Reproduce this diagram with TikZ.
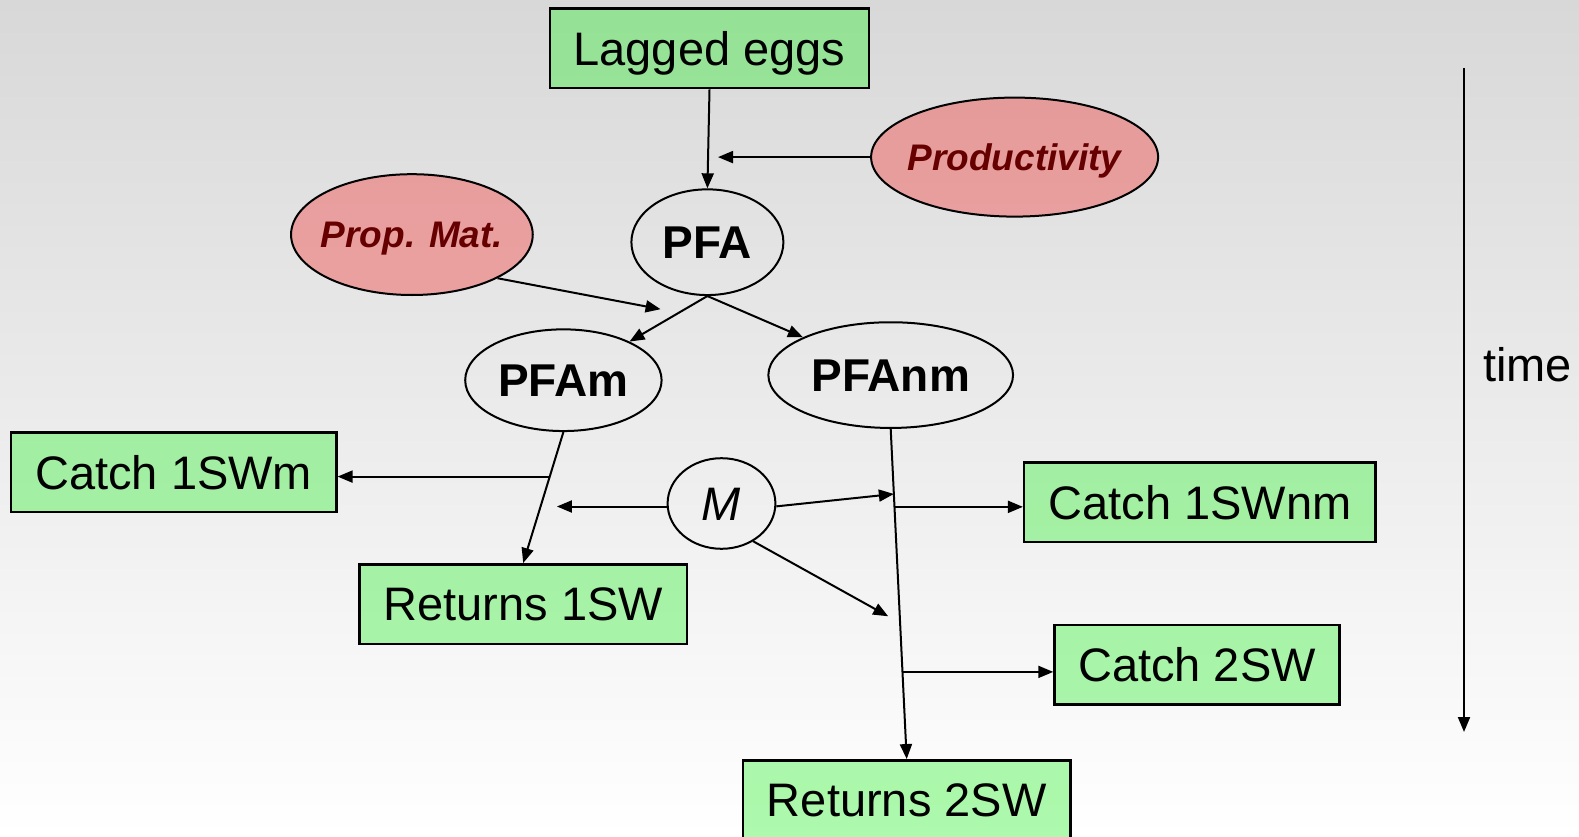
\documentclass[tikz,border=0pt]{standalone}
\usepackage{fontspec}
\setmainfont{Liberation Sans}
\usetikzlibrary{arrows.meta,shapes.geometric,calc}

\definecolor{boxgreen}{RGB}{40,240,40}
\definecolor{notepink}{RGB}{247,50,50}
\definecolor{labelred}{RGB}{102,0,0}
\definecolor{bgtop}{RGB}{216,216,216}

\begin{document}
\begin{tikzpicture}[x=1pt,y=-1pt,
  box/.style={draw, line width=2.5pt, fill=boxgreen, fill opacity=0.38,
    draw opacity=1, text opacity=1, inner sep=0pt, minimum height=79.6pt,
    text height=33.7pt, text depth=0pt, font=\fontsize{47}{56}\selectfont},
  % negative inner sep lets the given minimum size fix each ellipse
  oval/.style={ellipse, draw, line width=2pt, inner xsep=-80pt, inner ysep=-30pt,
    text height=33pt, text depth=0pt, font=\fontsize{46}{55}\selectfont\bfseries},
  noteoval/.style={ellipse, draw, line width=2pt, inner xsep=-80pt, inner ysep=-30pt,
    fill=notepink, fill opacity=0.38, draw opacity=1, text opacity=1,
    text=labelred, text height=26.5pt, text depth=0pt,
    font=\fontsize{37}{44}\selectfont\bfseries\itshape},
  arr/.style={-{Triangle[length=15pt,width=12pt]}, line width=2pt},
]
\useasboundingbox (0,0) rectangle (1579,837);
\shade[top color=bgtop, bottom color=white] (0,0) rectangle (1579,837);

% boxes
\node[box, minimum width=319pt]   (lagged)  at (709.5,48.3)  {Lagged eggs};
\node[box, minimum width=325.3pt] (catchm)  at (173.7,472.2) {Catch 1SWm};
\node[box, minimum width=351.5pt] (catchnm) at (1199.9,502.4) {Catch 1SWnm};
\node[box, minimum width=327.3pt] (ret1)    at (523.2,604.1) {Returns 1SW};
\node[box, minimum width=285pt]   (catch2)  at (1197,664.8)  {Catch 2SW};
\node[box, minimum width=327.3pt] (ret2)    at (906.7,800.1) {Returns 2SW};

% ellipses
\node[noteoval, minimum width=287pt, minimum height=119pt]     (prod) at (1014.6,157.1) {Productivity};
\node[noteoval, minimum width=241.7pt, minimum height=120.8pt] (prop) at (411.9,234.6) {Prop. Mat.};
\node[oval, minimum width=152pt, minimum height=105.7pt]   (pfa)   at (707.4,242.2) {PFA};
\node[oval, minimum width=196.4pt, minimum height=101.7pt] (pfam)  at (563.4,380.2) {PFAm};
\node[oval, minimum width=244.7pt, minimum height=105.7pt] (pfanm) at (890.7,375.1) {PFAnm};
\node[oval, minimum width=107.8pt, minimum height=90.6pt,
      font=\fontsize{47}{56}\selectfont\itshape, text height=33.7pt] (m) at (721.5,503.5) {M};

% free arrow ends
\coordinate (prodtip) at (718,157.1);
\coordinate (proptip) at (660.6,309.2);
\coordinate (mwtip)   at (556.9,506.5);
\coordinate (mstip)   at (888.2,616.3);

% junctions on the vertical flows
\coordinate (jm)  at ($(pfam.south)!0.34!(ret1.north)$);
\coordinate (jme) at ($(pfanm.south)!0.197!(ret2.north)$);
\coordinate (jnm) at ($(pfanm.south)!0.236!(ret2.north)$);
\coordinate (j2)  at ($(pfanm.south)!0.736!(ret2.north)$);

% connectors
\draw[arr] (lagged.south) -- (pfa.north);
\draw[arr] (prod.west) -- (prodtip);
\draw[arr] (prop.-27) -- (proptip);
\draw[arr] (pfa.south) -- (pfam);
\draw[arr] (pfa.south) -- (pfanm);
\draw[arr] (pfam.south) -- (ret1.north);
\draw[arr] (pfanm.south) -- (ret2.north);
\draw[arr] (jm) -- (jm -| catchm.east);
\draw[arr] (jnm) -- (jnm -| catchnm.west);
\draw[arr] (j2) -- (j2 -| catch2.west);
\draw[arr] (m.west |- mwtip) -- (mwtip);
\draw[arr] (m.-3) -- (jme);
\draw[arr] (m.-50) -- (mstip);

% time axis
\coordinate (t0) at (1464,68.5);
\coordinate (t1) at (1464,732);
\draw[arr] (t0) -- (t1);
\node[font=\fontsize{47}{56}\selectfont, text height=33.7pt, text depth=0pt, inner sep=0pt]
  (timelbl) at (1527.6,364.5) {time};
\end{tikzpicture}
\end{document}
